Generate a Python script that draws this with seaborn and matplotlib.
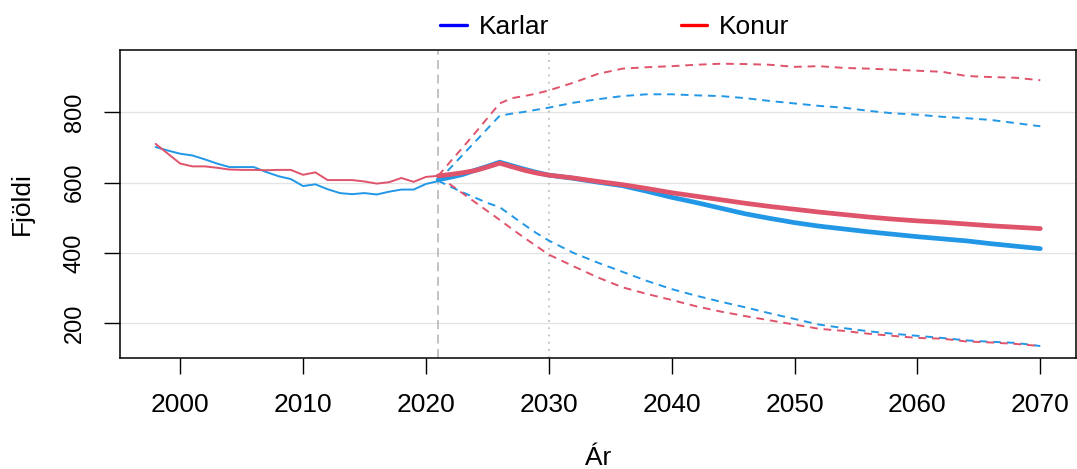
import numpy as np
import pandas as pd
import matplotlib
matplotlib.use("Agg")
import matplotlib.pyplot as plt
import seaborn as sns
from matplotlib.lines import Line2D

sns.set_style("white")
plt.rcParams['font.family'] = ['Liberation Sans', 'DejaVu Sans']
plt.rcParams['text.color'] = 'black'
plt.rcParams['axes.labelcolor'] = 'black'
plt.rcParams['xtick.color'] = 'black'
plt.rcParams['ytick.color'] = 'black'

# Historical values (thin lines)
hist_years = list(range(1998, 2022))
hist_karlar = [701, 691, 682, 677, 666, 654, 644, 644, 644, 630, 618, 610,
               590, 595, 581, 570, 567, 570, 566, 574, 580, 580, 596, 604]
hist_konur = [710, 682, 654, 646, 646, 642, 637, 636, 636, 635, 636, 636,
              622, 629, 607, 607, 607, 603, 597, 601, 613, 602, 616, 619]

# Projection years
proj_years = list(range(2021, 2031)) + list(range(2032, 2071, 2))

# Median projections (thick lines)
med_karlar = [608, 615, 623, 635, 646, 658, 648, 638, 629, 621,
              612, 601, 591, 575, 558, 543, 527, 511, 498, 486,
              476, 468, 460, 453, 446, 440, 434, 426, 419, 412]
med_konur = [619, 623, 628, 634, 644, 655, 645, 635, 627, 621,
             613, 603, 594, 583, 571, 561, 551, 541, 532, 524,
             516, 509, 502, 496, 491, 487, 482, 477, 473, 469]

# Upper bounds (dashed)
upp_karlar = [605, 642, 679, 716, 753, 790, 796, 801, 807, 813,
              827, 837, 846, 851, 851, 848, 846, 840, 832, 825,
              818, 813, 804, 797, 793, 787, 783, 778, 769, 760]
upp_konur = [619, 660, 700, 741, 783, 825, 840, 846, 853, 862,
             884, 909, 924, 928, 931, 935, 938, 937, 935, 929,
             931, 926, 924, 921, 918, 915, 903, 900, 898, 891]

# Lower bounds (dashed)
low_karlar = [605, 588, 572, 557, 542, 530, 505, 480, 456, 435,
              400, 372, 346, 320, 297, 278, 261, 245, 228, 212,
              196, 186, 177, 170, 164, 158, 151, 147, 144, 135]
low_konur = [619, 594, 569, 544, 519, 494, 468, 443, 419, 395,
             362, 330, 302, 283, 266, 248, 233, 220, 208, 196,
             184, 178, 170, 164, 158, 156, 148, 145, 141, 135]

col_k = "#2297E6"
col_w = "#DF536B"

fig = plt.figure(figsize=(10.77, 4.69), dpi=100)
ax = fig.add_axes([0.1114, 0.2367, 0.8876, 0.6567])

for yv in [200, 400, 600, 800]:
    ax.axhline(yv, color="#E3E3E3", lw=0.9, zorder=0)
ax.axvline(2021, color="#BEBEBE", lw=1.3, ls=(0, (5, 3)), zorder=1)
ax.axvline(2030, color="#BEBEBE", lw=1.3, ls=(0, (1, 3)), zorder=1)

sns.lineplot(x=hist_years, y=hist_karlar, color=col_k, lw=1.4, ax=ax)
sns.lineplot(x=hist_years, y=hist_konur, color=col_w, lw=1.4, ax=ax)
for vals, c in [(upp_karlar, col_k), (low_karlar, col_k),
                (upp_konur, col_w), (low_konur, col_w)]:
    sns.lineplot(x=proj_years, y=vals, color=c, lw=1.4, ax=ax,
                 linestyle=(0, (4, 3)))
sns.lineplot(x=proj_years, y=med_karlar, color=col_k, lw=3.4, ax=ax)
sns.lineplot(x=proj_years, y=med_konur, color=col_w, lw=3.4, ax=ax)

ax.set_xlim(1995.1, 2072.9)
ax.set_ylim(101, 977)
ax.set_xticks(range(2000, 2071, 10))
ax.set_yticks([200, 400, 600, 800])
ax.tick_params(axis='both', direction='out', length=11.5, width=1,
               bottom=True, left=True)
ax.tick_params(axis='x', labelsize=19, pad=14)
ax.tick_params(axis='y', labelsize=17, pad=13)
for lab in ax.get_yticklabels():
    lab.set_rotation(90)
    lab.set_va('center')
for s in ax.spines.values():
    s.set_color('black')
    s.set_linewidth(1.1)

ax.set_xlabel("Ár", fontsize=19)
ax.set_ylabel("Fjöldi", fontsize=19)
ax.xaxis.label.set_va('center')
ax.yaxis.label.set_va('center')
ax.xaxis.set_label_coords(0.5, -0.325)
ax.yaxis.set_label_coords(-0.1025, 0.5)

handles = [Line2D([], [], color='blue', lw=2.4), Line2D([], [], color='red', lw=2.4)]
fig.legend(handles, ["Karlar", "Konur"], loc='center', ncol=2, frameon=False,
           bbox_to_anchor=(0.571, 0.942), fontsize=19, handlelength=1.0,
           handletextpad=0.45, columnspacing=5.0)

fig.savefig("out.png", dpi=100)
